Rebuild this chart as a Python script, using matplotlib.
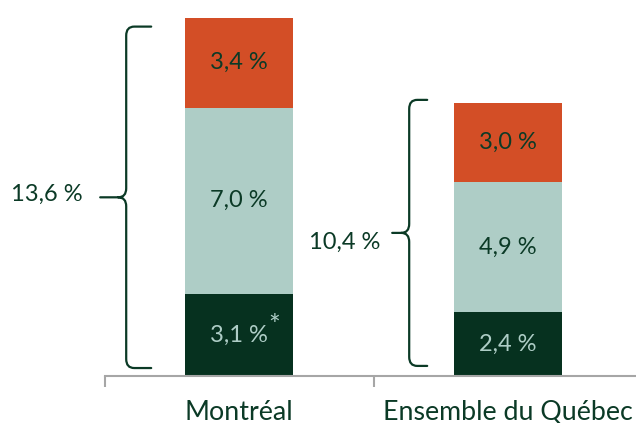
import matplotlib
matplotlib.use("Agg")
import matplotlib.pyplot as plt
from matplotlib.path import Path
from matplotlib.patches import PathPatch
from matplotlib.transforms import IdentityTransform

categories = ["Montréal", "Ensemble du Québec"]
bottom_vals = [3.1, 2.4]
middle_vals = [7.0, 4.9]
top_vals = [3.4, 3.0]
bottom_labels = ["3,1 %", "2,4 %"]
middle_labels = ["7,0 %", "4,9 %"]
top_labels = ["3,4 %", "3,0 %"]
total_labels = ["13,6 %", "10,4 %"]

C_DARK = "#06311F"
C_TEAL = "#AECDC6"
C_ORANGE = "#D34E26"
TXT = "#0B3A26"
FONT = "Lato"
FS = 17
FS_CAT = 19.3

W, H = 636, 423
fig = plt.figure(figsize=(W / 100, H / 100), dpi=100)
left_px, right_px = 104.5, 642.5
base_px = 376
ppu = 26.55
ymax = 14
ax = fig.add_axes([left_px / W, (H - base_px) / H, (right_px - left_px) / W, ymax * ppu / H])
ax.set_xlim(-0.5, 1.5)
ax.set_ylim(0, ymax)

x = list(range(len(categories)))
bw = 0.40
ax.bar(x, bottom_vals, bw, color=C_DARK)
b2 = [bottom_vals[i] for i in x]
ax.bar(x, middle_vals, bw, bottom=b2, color=C_TEAL)
b3 = [bottom_vals[i] + middle_vals[i] for i in x]
ax.bar(x, top_vals, bw, bottom=b3, color=C_ORANGE)

for i in x:
    ax.text(i, bottom_vals[i] / 2, bottom_labels[i], ha="center", va="center",
            color=C_TEAL, fontsize=FS, family=FONT)
    ax.text(i, b2[i] + middle_vals[i] / 2, middle_labels[i], ha="center", va="center",
            color=TXT, fontsize=FS, family=FONT)
    ax.text(i, b3[i] + top_vals[i] / 2, top_labels[i], ha="center", va="center",
            color=TXT, fontsize=FS, family=FONT)
# asterisk on Montréal bottom value
ax.annotate("*", xy=(0, bottom_vals[0] / 2), xytext=(35, 8), textcoords="offset pixels",
            ha="center", va="center", color=C_TEAL, fontsize=20, family=FONT)

for s in ["top", "left", "right"]:
    ax.spines[s].set_visible(False)
ax.spines["bottom"].set_color("#A6A6A6")
ax.spines["bottom"].set_linewidth(1.5)
ax.set_yticks([])
ax.set_xticks([-0.5, 0.5, 1.5])
ax.set_xticklabels([])
ax.tick_params(axis="x", length=8, width=1.5, color="#A6A6A6", direction="out")

for i in x:
    ax.annotate(categories[i], xy=(i, 0), xycoords=("data", "axes fraction"),
                xytext=(0, -36), textcoords="offset pixels", ha="center", va="center",
                color=TXT, fontsize=FS_CAT, family=FONT, annotation_clip=False)

fig.canvas.draw()

# braces (pixel geometry relative to bars)
brace_specs = [
    (34, 59, 85, 0.3, 0.34, 18, 3),
    (27, 45, 62, 0.38, -0.1, 12, -9),
]
totals = [bottom_vals[i] + middle_vals[i] + top_vals[i] for i in x]
for i, (e, v, t, yb, yt_off, gap, dy) in enumerate(brace_specs):
    bar_left = ax.transData.transform((x[i] - bw / 2, 0))[0]
    xe, xv, xt = bar_left - e, bar_left - v, bar_left - t
    yb_px = ax.transData.transform((0, yb))[1]
    yt_px = ax.transData.transform((0, totals[i] - yt_off))[1]
    ym = (yb_px + yt_px) / 2
    r = 9
    rx = 8
    verts = [
        (xe, yt_px), (xv + rx, yt_px),
        (xv, yt_px), (xv, yt_px - r),
        (xv, ym + r),
        (xv, ym), (xv - rx, ym),
        (xt, ym),
        (xv - rx, ym), (xv, ym), (xv, ym - r),
        (xv, yb_px + r),
        (xv, yb_px), (xv + rx, yb_px),
        (xe, yb_px),
    ]
    codes = [Path.MOVETO, Path.LINETO,
             Path.CURVE3, Path.CURVE3,
             Path.LINETO,
             Path.CURVE3, Path.CURVE3,
             Path.LINETO,
             Path.MOVETO, Path.CURVE3, Path.CURVE3,
             Path.LINETO,
             Path.CURVE3, Path.CURVE3,
             Path.LINETO]
    pp = PathPatch(Path(verts, codes), transform=IdentityTransform(), fill=False,
                   edgecolor=TXT, linewidth=1.6, capstyle="round")
    fig.patches.append(pp)
    fig.text((xt - gap) / W, (ym + dy) / H, total_labels[i], ha="right", va="center",
             color=TXT, fontsize=FS, family=FONT)

fig.savefig("out.png", dpi=100)
